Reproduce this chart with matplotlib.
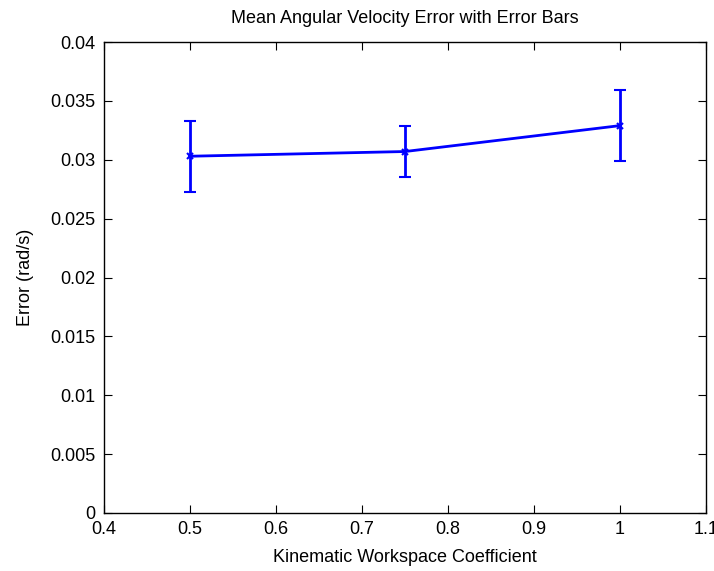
import numpy as np
import matplotlib.pyplot as plt

plt.rcParams['font.family'] = ['Liberation Sans', 'DejaVu Sans']

# data
coef = [0.5, 0.75, 1.0]
mean_err = [0.0303, 0.0307, 0.0329]
bar_err = [0.0030, 0.0022, 0.0030]

fig = plt.figure(figsize=(7.14, 5.71), dpi=100)
ax = fig.add_axes([0.1457, 0.1016, 0.8431, 0.8248])

ax.errorbar(coef, mean_err, yerr=bar_err, color="#0000ff", lw=2, marker="x",
            ms=5, mew=1.5, capsize=4, capthick=2, elinewidth=2)

ax.set_xlim(0.4, 1.1)
ax.set_ylim(0, 0.04)
ax.set_xticks(np.arange(0.4, 1.11, 0.1))
ax.set_xticklabels(["0.4", "0.5", "0.6", "0.7", "0.8", "0.9", "1", "1.1"])
ax.set_yticks(np.arange(0, 0.0401, 0.005))
ax.set_yticklabels(["0", "0.005", "0.01", "0.015", "0.02", "0.025", "0.03", "0.035", "0.04"])
ax.tick_params(direction="in", top=True, right=True, labelsize=13, length=6, pad=6)
for s in ax.spines.values():
    s.set_linewidth(1)

ax.set_xlabel("Kinematic Workspace Coefficient", fontsize=13, labelpad=8)
ax.set_ylabel("Error (rad/s)", fontsize=13, labelpad=12)
ax.set_title("Mean Angular Velocity Error with Error Bars", fontsize=13, pad=14)

fig.savefig("out.png", dpi=100)
